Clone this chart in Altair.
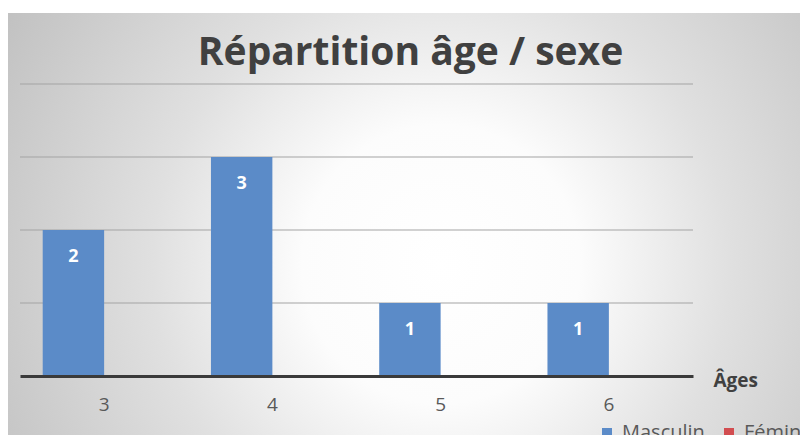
import altair as alt
import pandas as pd

# ---- data ----
ages = ["3", "4", "5", "6"]
masculin = [2, 3, 1, 1]
feminin = [0, 0, 0, 0]
sexes = ["Masculin", "Féminin"]
grid_values = [1, 2, 3, 4]

rows = []
for a, m, f in zip(ages, masculin, feminin):
    rows.append({"Âge": a, "Sexe": "Masculin", "Nombre": m})
    rows.append({"Âge": a, "Sexe": "Féminin", "Nombre": f})
df = pd.DataFrame(rows)
grid_df = pd.DataFrame({"v": grid_values})
bg_df = pd.DataFrame({"k": [0]})

FONT = "Open Sans"
BLUE = "#5B8BC8"
RED = "#D24D50"

x_enc = alt.X("Âge:N", sort=ages,
              scale=alt.Scale(paddingInner=0.27, paddingOuter=0.135),
              axis=alt.Axis(title="Âges", labelAngle=0, ticks=False, grid=False,
                            domainColor="#3a3a3a", domainWidth=3, zindex=1,
                            labelFont=FONT, labelFontSize=19, labelColor="#595959",
                            labelPadding=19,
                            titleFont=FONT, titleFontSize=19, titleFontWeight="bold",
                            titleColor="#404040", titleAlign="left", titleBaseline="middle",
                            titleX=693, titleY=4, titleAngle=0))
y_scale = alt.Scale(domain=[0, 4], nice=False)

background = alt.Chart(bg_df).mark_rect(
    fill=alt.RadialGradient(
        gradient="radial",
        x1=0.54, y1=0.52, r1=0.0,
        x2=0.54, y2=0.52, r2=0.62,
        stops=[
            alt.GradientStop(color="#ffffff", offset=0.0),
            alt.GradientStop(color="#fcfcfc", offset=0.28),
            alt.GradientStop(color="#e0e0e0", offset=0.58),
            alt.GradientStop(color="#c2c2c2", offset=1.0),
        ],
    ),
    strokeWidth=0,
).encode(x=alt.value(-12), x2=alt.value(790), y=alt.value(-71), y2=alt.value(400))

grid = alt.Chart(grid_df).mark_rule(color="#a3a3a3", strokeWidth=1.2).encode(
    y=alt.Y("v:Q", scale=y_scale, axis=None)
)

bars = alt.Chart(df).mark_bar().encode(
    x=x_enc,
    xOffset=alt.XOffset("Sexe:N", sort=sexes),
    y=alt.Y("Nombre:Q", scale=y_scale, axis=None),
    color=alt.Color("Sexe:N", sort=sexes,
                    scale=alt.Scale(domain=sexes, range=[BLUE, RED]),
                    legend=alt.Legend(title=None, orient="none", legendX=577, legendY=339,
                                      direction="horizontal", symbolType="square",
                                      symbolSize=100, symbolStrokeWidth=0,
                                      labelFont=FONT, labelFontSize=20, labelColor="#595959",
                                      labelOffset=5, columnPadding=14, padding=0)),
)

labels = alt.Chart(df).transform_filter(
    (alt.datum.Sexe == "Masculin") & (alt.datum.Nombre > 0)
).mark_text(font=FONT, fontSize=18, fontWeight="bold", color="white",
            baseline="middle", dy=27).encode(
    x=alt.X("Âge:N", sort=ages),
    xOffset=alt.XOffset("Sexe:N", sort=sexes),
    y=alt.Y("Nombre:Q", scale=y_scale, axis=None),
    text=alt.Text("Nombre:Q"),
)

chart = alt.layer(background, grid, bars, labels).properties(
    width=673,
    height=292,
    autosize=alt.AutoSizeParams(type="none"),
    padding={"left": 12, "top": 76, "right": 107, "bottom": 59},
    background="white",
    title=alt.TitleParams(text="Répartition âge / sexe", anchor="middle", frame="group",
                          dx=54, offset=-60, font=FONT, fontSize=39, fontWeight="bold",
                          color="#404040"),
).configure_view(stroke=None)

chart.save("out.html", embed_options={"renderer": "svg", "actions": False})
